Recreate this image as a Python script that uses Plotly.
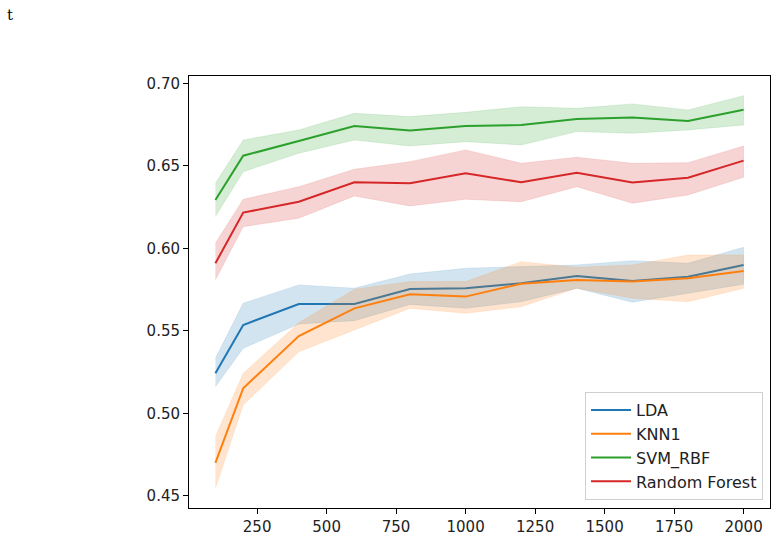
import plotly.graph_objects as go

x_vals = [100, 200, 400, 600, 800, 1000, 1200, 1400, 1600, 1800, 2000]

lda_mean = [0.5242, 0.5535, 0.5662, 0.5662, 0.5753, 0.5758, 0.5788, 0.5832, 0.5802, 0.5828, 0.5899]
lda_low = [0.5161, 0.5394, 0.5541, 0.5561, 0.5660, 0.5636, 0.5676, 0.5758, 0.5673, 0.5727, 0.5782]
lda_high = [0.5333, 0.5667, 0.5778, 0.5758, 0.5844, 0.5879, 0.5889, 0.5899, 0.5925, 0.5909, 0.6006]

knn_mean = [0.4700, 0.5152, 0.5468, 0.5636, 0.5721, 0.5707, 0.5785, 0.5808, 0.5798, 0.5818, 0.5862]
knn_low = [0.4545, 0.5050, 0.5373, 0.5505, 0.5636, 0.5606, 0.5646, 0.5758, 0.5697, 0.5676, 0.5758]
knn_high = [0.4858, 0.5242, 0.5549, 0.5752, 0.5798, 0.5798, 0.5919, 0.5885, 0.5899, 0.5959, 0.5959]

svm_mean = [0.6293, 0.6561, 0.6650, 0.6741, 0.6713, 0.6741, 0.6747, 0.6784, 0.6792, 0.6772, 0.6840]
svm_low = [0.6192, 0.6464, 0.6576, 0.6656, 0.6620, 0.6646, 0.6626, 0.6707, 0.6697, 0.6717, 0.6747]
svm_high = [0.6394, 0.6656, 0.6717, 0.6818, 0.6798, 0.6824, 0.6858, 0.6848, 0.6875, 0.6838, 0.6925]

rf_mean = [0.5909, 0.6216, 0.6282, 0.6400, 0.6394, 0.6455, 0.6400, 0.6458, 0.6398, 0.6428, 0.6531]
rf_low = [0.5808, 0.6131, 0.6182, 0.6317, 0.6256, 0.6297, 0.6282, 0.6373, 0.6273, 0.6323, 0.6430]
rf_high = [0.6030, 0.6297, 0.6373, 0.6479, 0.6525, 0.6596, 0.6515, 0.6552, 0.6515, 0.6519, 0.6620]

series_names = ["LDA", "KNN1", "SVM_RBF", "Random Forest"]
series_colors = ["#1f77b4", "#ff7f0e", "#2ca02c", "#d62728"]
series_fill = ["rgba(31,119,180,0.2)", "rgba(255,127,14,0.2)",
               "rgba(44,160,44,0.2)", "rgba(214,39,40,0.2)"]
means = [lda_mean, knn_mean, svm_mean, rf_mean]
lows = [lda_low, knn_low, svm_low, rf_low]
highs = [lda_high, knn_high, svm_high, rf_high]

x_ticks = [250, 500, 750, 1000, 1250, 1500, 1750, 2000]
y_ticks = [0.45, 0.50, 0.55, 0.60, 0.65, 0.70]

fig = go.Figure()
for name, col, fcol, m, lo, hi in zip(series_names, series_colors, series_fill, means, lows, highs):
    fig.add_trace(go.Scatter(
        x=x_vals + x_vals[::-1], y=hi + lo[::-1], mode="lines",
        fill="toself", fillcolor=fcol, line=dict(width=0.6, color=fcol),
        showlegend=False, hoverinfo="skip"))
    fig.add_trace(go.Scatter(
        x=x_vals, y=m, mode="lines", name=name,
        line=dict(color=col, width=2)))

axis_common = dict(
    showgrid=False, zeroline=False, showline=True, mirror=True,
    linecolor="black", linewidth=1, ticks="outside", ticklen=5,
    tickwidth=1, tickcolor="black", automargin=False,
    tickfont=dict(family="DejaVu Sans", size=15, color="#222"),
)
fig.update_xaxes(range=[5, 2095], tickvals=x_ticks,
                 ticktext=[str(v) for v in x_ticks], **axis_common)
fig.update_yaxes(range=[0.4426, 0.7044], tickvals=y_ticks,
                 ticktext=[f"{v:.2f}" for v in y_ticks], **axis_common)

fig.update_layout(
    width=778, height=539,
    margin=dict(l=189, r=8, t=76, b=31),
    plot_bgcolor="white", paper_bgcolor="white",
    font=dict(family="DejaVu Sans", size=16, color="#222"),
    legend=dict(x=0.988, y=0.0185, xanchor="right", yanchor="bottom",
                bgcolor="rgba(255,255,255,0.8)", bordercolor="#d0d0d0",
                borderwidth=1, font=dict(size=16), tracegroupgap=0,
                itemwidth=40),
)
fig.add_annotation(text="t", xref="paper", yref="paper",
                   x=-189 / 581 + 10 / 581, y=1 + (76 - 15) / 432,
                   xanchor="center", yanchor="middle", showarrow=False,
                   font=dict(family="DejaVu Serif", size=15, color="black"))

fig.write_html("out.html")
